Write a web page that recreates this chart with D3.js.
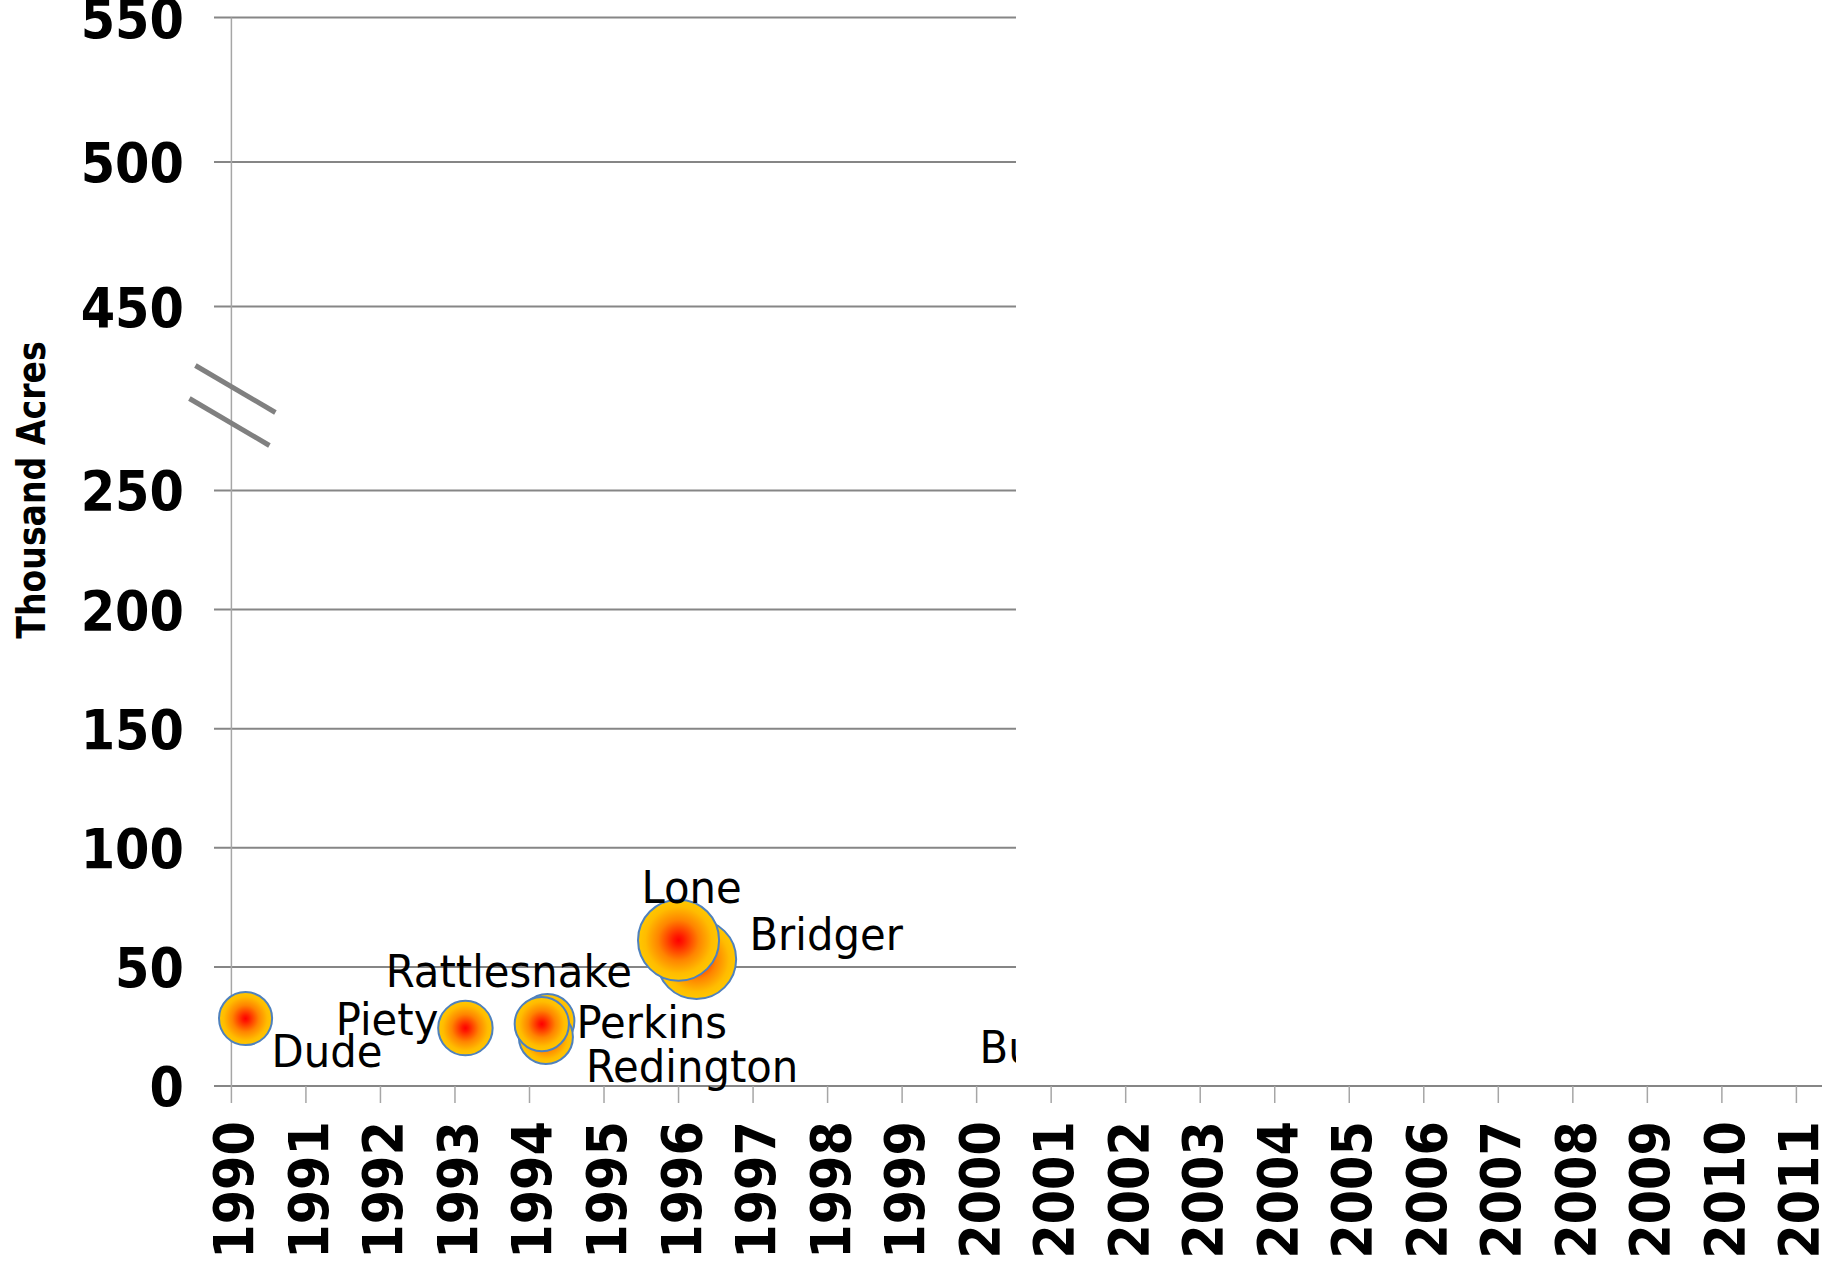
<!DOCTYPE html>
<html>
<head>
<meta charset="utf-8">
<script src="https://cdn.jsdelivr.net/npm/d3@7"></script>
<style>
  html, body { margin: 0; padding: 0; background: #ffffff; }
  svg { display: block; }
</style>
</head>
<body>
<svg id="chart" width="1835" height="1261"></svg>
<script>
// ---- data -------------------------------------------------------------
const yearTicks = [1990, 1991, 1992, 1993, 1994, 1995, 1996, 1997, 1998, 1999, 2000,
                   2001, 2002, 2003, 2004, 2005, 2006, 2007, 2008, 2009, 2010, 2011];
const lowerTicks = [0, 50, 100, 150, 200, 250];
const upperTicks = [450, 500, 550];

// fires, listed back-to-front in drawing order
const fireNames = ["Dude", "Piety", "Perkins", "Redington", "Rattlesnake", "Bridger", "Lone"];
const fireYears = [1990.19, 1993.14, 1994.24, 1994.22, 1994.165, 1996.24, 1996.0];
const fireAcres = [28.3, 24.3, 27.3, 20.6, 26.0, 53.2, 61.2];
const fireSizes = [26.0, 27.4, 27.0, 27.0, 27.2, 58.3, 60.7];

// label that runs off the right edge of the plot area
const edgeLabels = ["Bu"];
const edgeLabelYears = [2000.04];
const edgeLabelAcres = [9.6];

// ---- layout -----------------------------------------------------------
const svg = d3.select("#chart");
const gridLeft = 214, gridRight = 1016, axisRight = 1822;

const x = d3.scaleLinear().domain([1990, 2011]).range([231.4, 1796.4]);
const yLow = d3.scaleLinear().domain([0, 250]).range([1086, 490.4]);
const yHigh = d3.scaleLinear().domain([450, 550]).range([306.6, 17.6]);
const r = d3.scaleSqrt().domain([0, 60]).range([0, 40.3]);

// label placement around each bubble: [dx, dy, anchor]
const labelPlacement = {
  "Dude":        [26, 48, "start"],
  "Piety":       [-27, 7, "end"],
  "Perkins":     [29, 17, "start"],
  "Redington":   [40, 45, "start"],
  "Rattlesnake": [-33, -37, "middle"],
  "Bridger":     [53, -9, "start"],
  "Lone":        [13, -37, "middle"]
};

const GRID = "#868686";
const AXIS = "#a6a6a6";

// gradient fill for the bubbles
const defs = svg.append("defs");
const grad = defs.append("radialGradient").attr("id", "bubbleFill")
  .attr("cx", "50%").attr("cy", "50%").attr("r", "50%");
[[0, "#ff0000"], [0.12, "#ff1a00"], [0.5, "#ff8400"], [0.82, "#ffbc00"], [1, "#ffc800"]].forEach(([o, c]) =>
  grad.append("stop").attr("offset", o).attr("stop-color", c));

defs.append("clipPath").attr("id", "plotClip")
  .append("rect").attr("x", 0).attr("y", 0).attr("width", gridRight).attr("height", 1261);

// ---- gridlines (both segments of the broken axis) ----------------------
const grid = svg.append("g");
grid.selectAll("line.low").data(lowerTicks).join("line")
  .attr("x1", gridLeft).attr("x2", d => d === 0 ? axisRight : gridRight)
  .attr("y1", d => yLow(d)).attr("y2", d => yLow(d))
  .attr("stroke", GRID).attr("stroke-width", 2);
grid.selectAll("line.high").data(upperTicks).join("line")
  .attr("x1", gridLeft).attr("x2", gridRight)
  .attr("y1", d => yHigh(d)).attr("y2", d => yHigh(d))
  .attr("stroke", GRID).attr("stroke-width", 2);

// vertical value axis line
svg.append("line")
  .attr("x1", x(1990)).attr("x2", x(1990))
  .attr("y1", yHigh(550)).attr("y2", yLow(0))
  .attr("stroke", AXIS).attr("stroke-width", 1.5);

// year ticks
svg.append("g").selectAll("line").data(yearTicks).join("line")
  .attr("x1", d => x(d)).attr("x2", d => x(d))
  .attr("y1", yLow(0)).attr("y2", yLow(0) + 17)
  .attr("stroke", AXIS).attr("stroke-width", 1.5);

// ---- axis break marks --------------------------------------------------
const breakMid = (yLow(250) + yHigh(450)) / 2;
const ax = x(1990);
[[-36, -33, 44, 14], [-42, 0, 38, 47]].forEach(([x1, y1, x2, y2]) =>
  svg.append("line")
    .attr("x1", ax + x1).attr("y1", breakMid + y1)
    .attr("x2", ax + x2).attr("y2", breakMid + y2)
    .attr("stroke", "#808080").attr("stroke-width", 5));

// ---- tick labels -------------------------------------------------------
const boldFont = "'DejaVu Sans', Verdana, sans-serif";
function squeezed(g, px, py, rot, sx) {
  return g.append("text")
    .attr("transform", `translate(${px},${py})${rot ? " rotate(" + rot + ")" : ""} scale(${sx},1)`);
}

const yLabels = svg.append("g").attr("font-family", boldFont).attr("font-weight", "bold")
  .attr("font-size", 55).attr("fill", "#000");
lowerTicks.forEach(v => squeezed(yLabels, 184, yLow(v) + 20, 0, 0.9).attr("text-anchor", "end").text(v));
upperTicks.forEach(v => squeezed(yLabels, 184, yHigh(v) + 20, 0, 0.9).attr("text-anchor", "end").text(v));

const xLabels = svg.append("g").attr("font-family", boldFont).attr("font-weight", "bold")
  .attr("font-size", 55).attr("fill", "#000");
yearTicks.forEach(v => squeezed(xLabels, x(v) + 22, 1121, -90, 0.9).attr("text-anchor", "end").text(v));

// axis title
squeezed(svg.append("g").attr("font-family", boldFont).attr("font-weight", "bold")
  .attr("font-size", 39).attr("fill", "#000"), 45, 490, -90, 0.85)
  .attr("text-anchor", "middle").text("Thousand Acres");

// ---- bubbles and labels ------------------------------------------------
const plot = svg.append("g").attr("clip-path", "url(#plotClip)");
const fires = fireNames.map((n, i) => ({ name: n, year: fireYears[i], acres: fireAcres[i], size: fireSizes[i] }));

plot.selectAll("circle").data(fires).join("circle")
  .attr("cx", d => x(d.year)).attr("cy", d => yLow(d.acres)).attr("r", d => r(d.size))
  .attr("fill", "url(#bubbleFill)").attr("stroke", "#4f81bd").attr("stroke-width", 2);

const labelFont = "'DejaVu Sans', Verdana, sans-serif";
const labels = plot.append("g").attr("font-family", labelFont).attr("font-size", 44).attr("fill", "#000");
fires.forEach(d => {
  const [dx, dy, anchor] = labelPlacement[d.name];
  squeezed(labels, x(d.year) + dx, yLow(d.acres) + dy, 0, 0.95).attr("text-anchor", anchor).text(d.name);
});
edgeLabels.forEach((t, i) =>
  squeezed(labels, x(edgeLabelYears[i]), yLow(edgeLabelAcres[i]), 0, 0.95).attr("text-anchor", "start").text(t));
</script>
</body>
</html>
